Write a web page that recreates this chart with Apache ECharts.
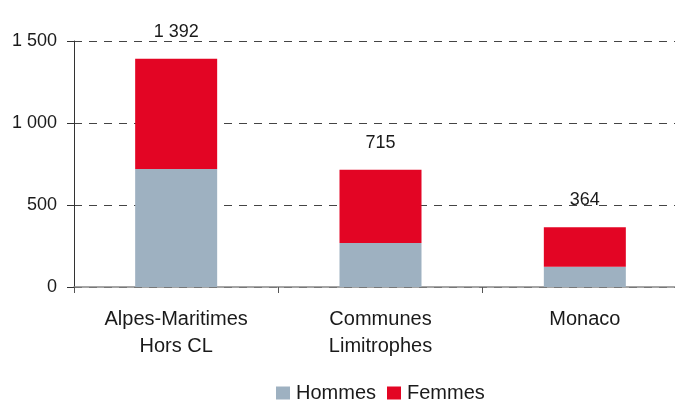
<!DOCTYPE html>
<html>
<head>
<meta charset="utf-8">
<script src="https://cdn.jsdelivr.net/npm/echarts@6/dist/echarts.min.js"></script>
<style>
  html, body { margin: 0; padding: 0; background: #fff; }
  #main { width: 675px; height: 401px; }
</style>
</head>
<body>
<div id="main"></div>
<script>
var categories = ['Alpes-Maritimes\nHors CL', 'Communes\nLimitrophes', 'Monaco'];
var hommes = [720, 268, 124];
var femmes = [672, 447, 240];
var totals = [1392, 715, 364];

function fmt(v) {
    return String(v).replace(/\B(?=(\d{3})+(?!\d))/g, ' ');
}

var myChart = echarts.init(document.getElementById('main'));

var option = {
    animation: false,
    textStyle: { fontFamily: 'Liberation Sans, Arial, sans-serif' },
    grid: { left: 74, width: 613, top: 41, bottom: 114, outerBoundsMode: 'none', containLabel: false },
    legend: {
        data: ['Hommes', 'Femmes'],
        left: 276,
        top: 383,
        itemWidth: 14,
        itemHeight: 13,
        itemGap: 11,
        icon: 'rect',
        padding: 0,
        textStyle: { fontSize: 20, color: '#1a1a1a', padding: [0, 0, 0, 1] }
    },
    xAxis: {
        type: 'category',
        data: categories,
        axisLine: { lineStyle: { color: '#888', width: 1.5 } },
        axisTick: { show: true, length: 6, lineStyle: { color: '#555' } },
        axisLabel: { fontSize: 20, color: '#1a1a1a', margin: 19, lineHeight: 27 }
    },
    yAxis: {
        type: 'value',
        min: 0,
        max: 1500,
        interval: 500,
        axisLine: { show: true, lineStyle: { color: '#333' } },
        axisTick: { show: true, length: 7, lineStyle: { color: '#333' } },
        axisLabel: { fontSize: 18, color: '#1a1a1a', margin: 17, formatter: fmt },
        splitLine: { lineStyle: { color: '#444', type: [8, 7] } }
    },
    series: [
        {
            name: 'Hommes',
            type: 'bar',
            stack: 'total',
            barWidth: 82,
            itemStyle: { color: '#9eb1c1' },
            data: hommes
        },
        {
            name: 'Femmes',
            type: 'bar',
            stack: 'total',
            barWidth: 82,
            itemStyle: { color: '#e30524' },
            label: {
                show: true,
                position: 'top',
                distance: 18,
                fontSize: 18,
                color: '#1a1a1a',
                formatter: function (p) { return fmt(totals[p.dataIndex]); }
            },
            data: femmes
        }
    ]
};

myChart.setOption(option);
</script>
</body>
</html>
